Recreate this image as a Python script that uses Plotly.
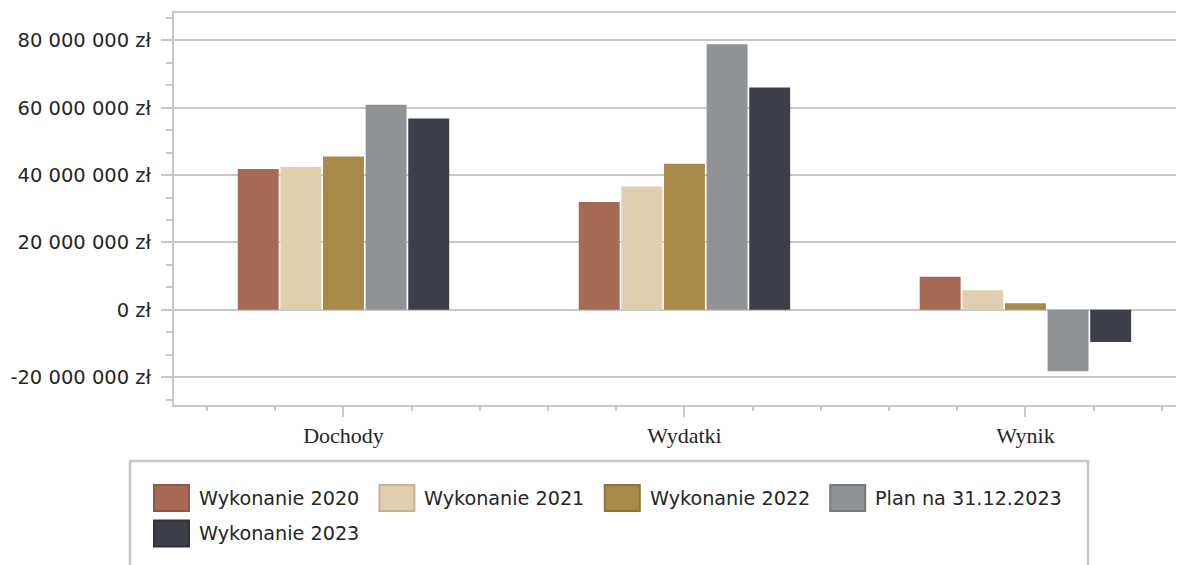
import plotly.graph_objects as go

# ---- data ----
categories = ["Dochody", "Wydatki", "Wynik"]
series_names = ["Wykonanie 2020", "Wykonanie 2021", "Wykonanie 2022",
                "Plan na 31.12.2023", "Wykonanie 2023"]
wyk_2020 = [41.8e6, 32.0e6, 9.8e6]
wyk_2021 = [42.4e6, 36.6e6, 5.8e6]
wyk_2022 = [45.5e6, 43.4e6, 1.9e6]
plan_2023 = [60.9e6, 78.9e6, -18.3e6]
wyk_2023 = [56.8e6, 66.0e6, -9.6e6]
y_tick_values = [-20e6, 0, 20e6, 40e6, 60e6, 80e6]
y_tick_labels = ["-20 000 000 zł", "0 zł", "20 000 000 zł", "40 000 000 zł",
                 "60 000 000 zł", "80 000 000 zł"]

series_values = [wyk_2020, wyk_2021, wyk_2022, plan_2023, wyk_2023]
colors = ["#A56954", "#DFCFAF", "#A88947", "#909396", "#3C3E49"]
border_colors = ["#8E5644", "#C4B493", "#8E733A", "#77797C", "#30323B"]

OFF = 8  # page body margin
W, H = 1184 - OFF, 565 - OFF
L, R, T, B = 174 - OFF, 0, 13 - OFF, 160
PW, PH = W - L - R, H - T - B
GRID = "#c8c8c8"
TXT = "#262626"

x_idx = list(range(len(categories)))

fig = go.Figure()
for name, vals, col in zip(series_names, series_values, colors):
    fig.add_bar(x=x_idx, y=vals, name=name, marker_color=col,
                marker_line_width=0, showlegend=False)


def px_x(p):
    # p: pixel in the screenshot
    return (p - OFF - L) / PW


def px_y(p):
    return (H - B - (p - OFF)) / PH


# custom legend (box, swatches, labels)
shapes = [dict(type="rect", xref="paper", yref="paper",
               x0=px_x(130), x1=px_x(1088), y0=px_y(640), y1=px_y(461),
               line=dict(color=GRID, width=2.5), fillcolor="rgba(0,0,0,0)",
               layer="above")]
annotations = []
for i, name in enumerate(series_names):
    col_i, row_i = i % 4, i // 4
    sx = 153 + col_i * 225.4
    cy = 498 + row_i * 35.5
    shapes.append(dict(type="rect", xref="paper", yref="paper",
                       x0=px_x(sx + 1), x1=px_x(sx + 36),
                       y0=px_y(cy + 13), y1=px_y(cy - 13),
                       fillcolor=colors[i],
                       line=dict(color=border_colors[i], width=2)))
    annotations.append(dict(xref="paper", yref="paper", x=px_x(sx + 44),
                            y=px_y(cy), text=name, showarrow=False,
                            xanchor="left", yanchor="middle",
                            font=dict(family="DejaVu Sans", size=19.2, color=TXT)))

fig.update_layout(
    width=W, height=H, autosize=False,
    margin=dict(l=L, r=R, t=T, b=B, pad=0),
    paper_bgcolor="white", plot_bgcolor="white",
    barmode="group", bargap=0.375, bargroupgap=0.04,
    shapes=shapes, annotations=annotations,
    xaxis=dict(
        range=[-0.497, 2.465], tickvals=x_idx, ticktext=categories,
        ticks="outside", ticklen=10, tickwidth=2, tickcolor=GRID,
        showline=True, linecolor=GRID, linewidth=2, mirror=True,
        showgrid=False, zeroline=False,
        tickfont=dict(family="Liberation Serif", size=22, color=TXT),
        ticklabelstandoff=0,
        minor=dict(dtick=0.2, tick0=0, ticks="outside", ticklen=4,
                   tickwidth=2, tickcolor=GRID, showgrid=False),
    ),
    yaxis=dict(
        range=[-28.3e6, 88.15e6], tickvals=y_tick_values, ticktext=y_tick_labels,
        ticks="outside", ticklen=11, tickwidth=2, tickcolor=GRID,
        showline=True, linecolor=GRID, linewidth=2,
        showgrid=True, gridcolor=GRID, gridwidth=2, zeroline=False,
        tickfont=dict(family="DejaVu Sans", size=19.5, color=TXT),
        ticklabelstandoff=6,
        minor=dict(dtick=20e6 / 3, tick0=0, ticks="outside", ticklen=6,
                   tickwidth=2, tickcolor=GRID, showgrid=False),
    ),
)

fig.write_html("out.html")
